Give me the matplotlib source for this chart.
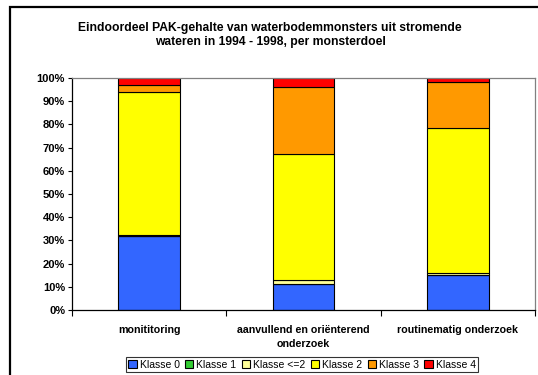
"""Stacked 100% bars: final PAK assessment of river sediment samples, 1994-1998."""

import matplotlib

matplotlib.use("Agg")
import matplotlib.pyplot as plt
from matplotlib.patches import Rectangle
from matplotlib.ticker import FuncFormatter, MultipleLocator

plt.rcParams["font.family"] = ["Liberation Sans", "DejaVu Sans"]

categories = ["monititoring", "aanvullend en oriënterend\nonderzoek", "routinematig onderzoek"]
classes = ["Klasse 0", "Klasse 1", "Klasse <=2", "Klasse 2", "Klasse 3", "Klasse 4"]
colors = ["#3366FF", "#33CC33", "#FFFF99", "#FFFF00", "#FF9900", "#FF0000"]

# percentages per category, in class order
klasse_0 = [32.0, 11.1, 15.0]
klasse_1 = [0.0, 0.0, 0.0]
klasse_le2 = [0.3, 2.0, 1.0]
klasse_2 = [61.8, 54.1, 62.4]
klasse_3 = [2.9, 28.9, 19.9]
klasse_4 = [3.0, 3.9, 1.7]
values = [klasse_0, klasse_1, klasse_le2, klasse_2, klasse_3, klasse_4]

fig = plt.figure(figsize=(5.38, 3.75), dpi=100)
ax = fig.add_axes([72 / 538, 1 - 310 / 375, 463 / 538, 232 / 375])

x = list(range(len(categories)))
bottom = [0.0] * len(categories)
handles = []
for name, vals, col in zip(classes, values, colors):
    bars = ax.bar(x, vals, width=0.4, bottom=bottom, color=col,
                  edgecolor="black", linewidth=0.8, label=name)
    handles.append(bars)
    bottom = [b + v for b, v in zip(bottom, vals)]

ax.set_xlim(-0.5, 2.5)
ax.set_ylim(0, 100)
ax.yaxis.set_major_locator(MultipleLocator(10))
ax.yaxis.set_major_formatter(FuncFormatter(lambda v, _: f"{v:.0f}%"))
ax.set_xticks(x)
ax.set_xticklabels(categories, fontweight="bold", fontsize=7.7, linespacing=1.45)
ax.set_xticks([-0.5, 0.5, 1.5, 2.5], minor=True)
ax.tick_params(axis="x", which="major", length=0, pad=11)
ax.tick_params(axis="x", which="minor", length=4, direction="out", width=0.8)
ax.tick_params(axis="y", length=3, direction="out", width=0.8, labelsize=8, pad=2)
for lab in ax.get_yticklabels():
    lab.set_fontweight("bold")

for side in ("left", "bottom"):
    ax.spines[side].set_color("black")
    ax.spines[side].set_linewidth(0.9)
for side in ("top", "right"):
    ax.spines[side].set_color("#808080")
    ax.spines[side].set_linewidth(0.9)

fig.text(270 / 538, 1 - 35 / 375,
         "Eindoordeel PAK-gehalte van waterbodemmonsters uit stromende\n"
         "wateren in 1994 - 1998, per monsterdoel",
         ha="center", va="center", fontsize=8.7, fontweight="bold", linespacing=1.25)

leg = fig.legend(handles=handles, labels=classes, loc="center", ncol=6,
                 bbox_to_anchor=(302 / 538, 1 - 364.5 / 375), fontsize=7.5,
                 frameon=True, fancybox=False, edgecolor="black",
                 handlelength=0.8, handleheight=0.8, handletextpad=0.3,
                 columnspacing=0.5, borderpad=0.25, borderaxespad=0)
leg.get_frame().set_linewidth(0.8)

# outer chart-area frame, running past the right and bottom image edges
fig.patches.append(Rectangle((10 / 538, -0.1), 1.2, 1.1 - 7 / 375,
                             transform=fig.transFigure, fill=False,
                             edgecolor="black", linewidth=1.6))

fig.savefig("out.png", dpi=100)
